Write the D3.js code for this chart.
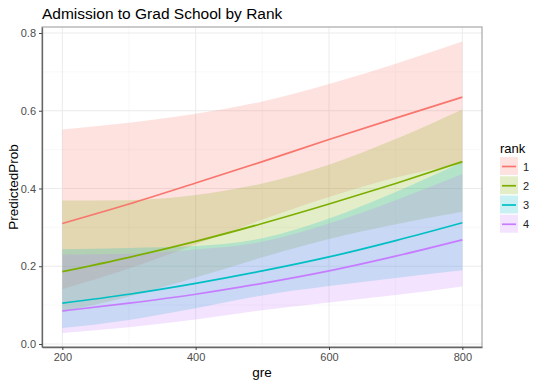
<!DOCTYPE html>
<html>
<head>
<meta charset="utf-8">
<script src="https://cdn.jsdelivr.net/npm/d3@7"></script>
<style>
  body { margin: 0; background: #fff; }
  text { font-family: "Liberation Sans", Arial, sans-serif; }
</style>
</head>
<body>
<div id="ChartArea"></div>
<script>
// ------------------------------------------------------------------
//  data (gre on x, predicted probability on y)
// ------------------------------------------------------------------
var gre = [200, 300, 400, 500, 600, 700, 800];
var ranks = ["1", "2", "3", "4"];

var prob1  = [0.310, 0.360, 0.414, 0.469, 0.526, 0.581, 0.635];
var lower1 = [0.141, 0.194, 0.256, 0.320, 0.378, 0.428, 0.463];
var upper1 = [0.552, 0.569, 0.592, 0.624, 0.669, 0.721, 0.778];

var prob2  = [0.186, 0.223, 0.264, 0.310, 0.360, 0.413, 0.469];
var lower2 = [0.082, 0.122, 0.171, 0.223, 0.270, 0.308, 0.340];
var upper2 = [0.369, 0.370, 0.383, 0.413, 0.461, 0.527, 0.603];

var prob3  = [0.105, 0.128, 0.156, 0.188, 0.224, 0.266, 0.312];
var lower3 = [0.041, 0.062, 0.092, 0.125, 0.149, 0.170, 0.190];
var upper3 = [0.244, 0.247, 0.252, 0.272, 0.323, 0.391, 0.468];

var prob4  = [0.085, 0.105, 0.128, 0.156, 0.188, 0.226, 0.268];
var lower4 = [0.028, 0.043, 0.063, 0.087, 0.107, 0.126, 0.148];
var upper4 = [0.230, 0.232, 0.243, 0.263, 0.310, 0.370, 0.437];

var xTicks = [200, 400, 600, 800];
var yTicks = [0.0, 0.2, 0.4, 0.6, 0.8];

// ------------------------------------------------------------------
function write_chart ()
{
  var colors = ["#F8766D", "#7CAE00", "#00BFC4", "#C77CFF"];
  var probs  = [prob1, prob2, prob3, prob4];
  var lowers = [lower1, lower2, lower3, lower4];
  var uppers = [upper1, upper2, upper3, upper4];
  var alpha = 0.21;

  // panel box
  var left = 42, right = 482, top = 27, bottom = 347;

  var x = d3.scaleLinear().domain([169.5, 829.5]).range([left, right]);
  var y = d3.scaleLinear().domain([-0.0077, 0.8154]).range([bottom, top]);

  var svg = d3.select("#ChartArea").append("svg")
      .attr("width", 540)
      .attr("height", 386);

  // grid (minor then major)
  var minorX = [300, 500, 700], minorY = [0.1, 0.3, 0.5, 0.7];
  svg.selectAll(".gx-minor").data(minorX).enter().append("line")
    .attr("x1", d => x(d)).attr("x2", d => x(d))
    .attr("y1", top).attr("y2", bottom)
    .attr("stroke", "#f4f4f4").attr("stroke-width", 0.6);
  svg.selectAll(".gy-minor").data(minorY).enter().append("line")
    .attr("y1", d => y(d)).attr("y2", d => y(d))
    .attr("x1", left).attr("x2", right)
    .attr("stroke", "#f4f4f4").attr("stroke-width", 0.6);
  svg.selectAll(".gx").data(xTicks).enter().append("line")
    .attr("x1", d => x(d)).attr("x2", d => x(d))
    .attr("y1", top).attr("y2", bottom)
    .attr("stroke", "#ebebeb").attr("stroke-width", 1);
  svg.selectAll(".gy").data(yTicks).enter().append("line")
    .attr("y1", d => y(d)).attr("y2", d => y(d))
    .attr("x1", left).attr("x2", right)
    .attr("stroke", "#ebebeb").attr("stroke-width", 1);

  // ribbons
  var area = d3.area()
    .x((d, i) => x(gre[i]))
    .y0(d => y(d[0]))
    .y1(d => y(d[1]))
    .curve(d3.curveMonotoneX);

  ranks.forEach(function(r, k) {
    var band = lowers[k].map((v, i) => [v, uppers[k][i]]);
    svg.append("path")
      .datum(band)
      .attr("d", area)
      .attr("fill", colors[k])
      .attr("fill-opacity", alpha);
  });

  // lines
  var line = d3.line()
    .x((d, i) => x(gre[i]))
    .y(d => y(d))
    .curve(d3.curveMonotoneX);

  ranks.forEach(function(r, k) {
    svg.append("path")
      .datum(probs[k])
      .attr("d", line)
      .attr("fill", "none")
      .attr("stroke", colors[k])
      .attr("stroke-width", 1.7);
  });

  // panel border
  svg.append("rect")
    .attr("x", left).attr("y", top)
    .attr("width", right - left).attr("height", bottom - top)
    .attr("fill", "none").attr("stroke", "#a8a8a8").attr("stroke-width", 1.2);

  // axes
  var xAxis = svg.append("g")
    .attr("transform", "translate(0," + bottom + ")")
    .call(d3.axisBottom(x).tickValues(xTicks).tickSize(3).tickPadding(3).tickSizeOuter(0));
  var yAxis = svg.append("g")
    .attr("transform", "translate(" + left + ",0)")
    .call(d3.axisLeft(y).tickValues(yTicks).tickFormat(d3.format(".1f")).tickSize(3).tickPadding(3).tickSizeOuter(0));

  [xAxis, yAxis].forEach(function(a) {
    a.select(".domain").attr("stroke", "#666").attr("stroke-width", 1.3);
    a.selectAll(".tick line").attr("stroke", "#444");
    a.selectAll(".tick text")
      .attr("fill", "#4d4d4d")
      .style("font-size", "11px")
      .style("font-family", "'Liberation Sans', Arial, sans-serif");
  });

  // titles
  svg.append("text")
    .attr("x", left).attr("y", 19)
    .style("font-size", "15.5px")
    .attr("fill", "#000")
    .text("Admission to Grad School by Rank");

  svg.append("text")
    .attr("x", (left + right) / 2).attr("y", 377)
    .attr("text-anchor", "middle")
    .style("font-size", "13.5px")
    .text("gre");

  svg.append("text")
    .attr("transform", "translate(18," + ((top + bottom) / 2) + ") rotate(-90)")
    .attr("text-anchor", "middle")
    .style("font-size", "13.5px")
    .text("PredictedProb");

  // legend
  var lg = svg.append("g");
  lg.append("text")
    .attr("x", 500).attr("y", 153)
    .style("font-size", "13px")
    .text("rank");

  var keyY = d3.scaleBand().domain(ranks).range([157, 234]);
  var keys = lg.selectAll(".key").data(ranks).enter().append("g")
    .attr("transform", d => "translate(500," + keyY(d) + ")");
  keys.append("rect")
    .attr("width", 18).attr("height", 18)
    .attr("fill", (d, i) => colors[i])
    .attr("fill-opacity", alpha);
  keys.append("line")
    .attr("x1", 2).attr("x2", 16)
    .attr("y1", 9.5).attr("y2", 9.5)
    .attr("stroke", (d, i) => colors[i])
    .attr("stroke-width", 1.7);
  keys.append("text")
    .attr("x", 23).attr("y", 13.5)
    .style("font-size", "11px")
    .attr("fill", "#222")
    .text(d => d);
}

write_chart();
</script>
</body>
</html>
